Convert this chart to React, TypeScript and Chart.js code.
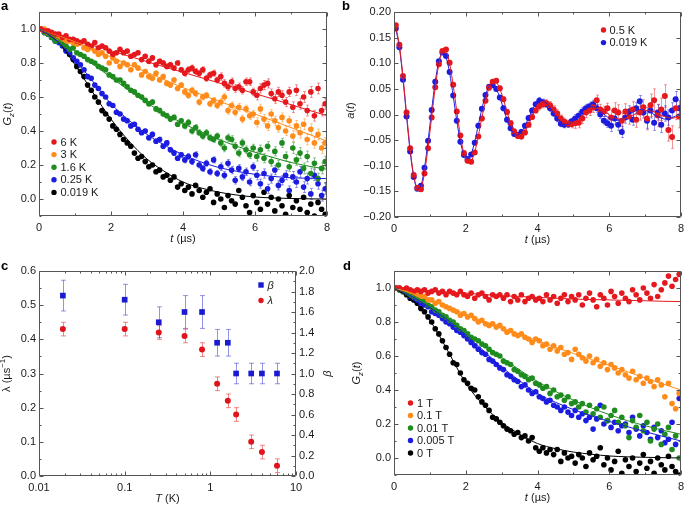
import React, { useEffect, useRef } from 'react';
import { Chart, registerables } from 'chart.js';
Chart.register(...registerables);

const FONT = '"Liberation Sans", Arial, Helvetica, sans-serif';
const TXT = '#1a1a1a';
const FRAME = '#555555';

const RED = '#e5181e';
const ORANGE = '#ff8c1a';
const GREEN = '#1f8c1f';
const BLUE = '#1c1ce0';
const BLACK = '#000000';

// shared time grid (µs)
const T_GRID = [
  0.05, 0.15, 0.25, 0.35, 0.45, 0.55, 0.65, 0.75, 0.85, 0.95,
  1.05, 1.15, 1.25, 1.35, 1.45, 1.55, 1.65, 1.75, 1.85, 1.95,
  2.05, 2.15, 2.25, 2.35, 2.45, 2.55, 2.65, 2.75, 2.85, 2.95,
  3.05, 3.15, 3.25, 3.35, 3.45, 3.55, 3.65, 3.75, 3.85, 3.95,
  4.05, 4.15, 4.25, 4.35, 4.45, 4.55, 4.65, 4.75, 4.85, 4.95,
  5.05, 5.15, 5.25, 5.35, 5.45, 5.55, 5.65, 5.75, 5.85, 5.95,
  6.05, 6.15, 6.25, 6.35, 6.45, 6.55, 6.65, 6.75, 6.85, 6.95,
  7.05, 7.15, 7.25, 7.35, 7.45, 7.55, 7.65, 7.75, 7.85, 7.95,
];
const FIT_T = [0, 0.5, 1, 1.5, 2, 2.5, 3, 3.5, 4, 4.5, 5, 5.5, 6, 6.5, 7, 7.5, 8];

// ---------- panel a ----------
const A_LABELS = ['6 K', '3 K', '1.6 K', '0.25 K', '0.019 K'];
const A_6K = [
  1.00, 0.99, 0.99, 0.98, 0.97, 0.97, 0.95, 0.96, 0.94, 0.94,
  0.93, 0.92, 0.93, 0.91, 0.90, 0.92, 0.89, 0.90, 0.89, 0.87,
  0.85, 0.86, 0.88, 0.86, 0.87, 0.84, 0.85, 0.86, 0.82, 0.84,
  0.81, 0.83, 0.79, 0.81, 0.80, 0.78, 0.79, 0.77, 0.80, 0.76,
  0.74, 0.76, 0.77, 0.75, 0.74, 0.76, 0.71, 0.73, 0.74, 0.70,
  0.72, 0.68, 0.66, 0.69, 0.65, 0.66, 0.64, 0.69, 0.69, 0.63,
  0.61, 0.65, 0.67, 0.68, 0.62, 0.59, 0.63, 0.61, 0.57, 0.63,
  0.54, 0.64, 0.56, 0.60, 0.52, 0.63, 0.49, 0.65, 0.52, 0.56,
];
const A_3K = [
  1.00, 1.00, 0.98, 0.97, 0.96, 0.95, 0.94, 0.93, 0.93, 0.92,
  0.91, 0.92, 0.89, 0.88, 0.89, 0.87, 0.85, 0.86, 0.84, 0.80,
  0.83, 0.81, 0.78, 0.80, 0.79, 0.76, 0.79, 0.77, 0.73, 0.75,
  0.72, 0.71, 0.74, 0.70, 0.72, 0.68, 0.67, 0.70, 0.65, 0.67,
  0.63, 0.61, 0.64, 0.62, 0.57, 0.60, 0.61, 0.56, 0.58, 0.55,
  0.57, 0.60, 0.52, 0.55, 0.51, 0.54, 0.47, 0.53, 0.49, 0.50,
  0.45, 0.53, 0.47, 0.43, 0.50, 0.46, 0.42, 0.48, 0.40, 0.46,
  0.37, 0.43, 0.39, 0.44, 0.35, 0.41, 0.33, 0.38, 0.30, 0.33,
];
const A_1_6K = [
  1.00, 0.98, 0.97, 0.95, 0.93, 0.93, 0.91, 0.90, 0.88, 0.89,
  0.86, 0.85, 0.84, 0.82, 0.81, 0.80, 0.78, 0.77, 0.76, 0.73,
  0.72, 0.70, 0.70, 0.68, 0.66, 0.64, 0.63, 0.61, 0.60, 0.58,
  0.56, 0.57, 0.53, 0.52, 0.50, 0.49, 0.47, 0.48, 0.44, 0.46,
  0.43, 0.45, 0.40, 0.42, 0.39, 0.37, 0.39, 0.36, 0.35, 0.37,
  0.33, 0.30, 0.36, 0.35, 0.31, 0.27, 0.33, 0.29, 0.26, 0.30,
  0.25, 0.29, 0.24, 0.31, 0.22, 0.28, 0.20, 0.33, 0.25, 0.19,
  0.30, 0.23, 0.27, 0.18, 0.25, 0.15, 0.21, 0.12, 0.18, 0.22,
];
const A_0_25K = [
  1.00, 0.98, 0.97, 0.95, 0.93, 0.92, 0.90, 0.87, 0.86, 0.83,
  0.81, 0.79, 0.76, 0.72, 0.71, 0.67, 0.65, 0.62, 0.60, 0.56,
  0.55, 0.51, 0.50, 0.47, 0.46, 0.43, 0.44, 0.41, 0.39, 0.40,
  0.36, 0.38, 0.34, 0.35, 0.31, 0.33, 0.29, 0.27, 0.24, 0.26,
  0.23, 0.25, 0.22, 0.26, 0.20, 0.18, 0.21, 0.16, 0.23, 0.15,
  0.19, 0.14, 0.21, 0.17, 0.11, 0.18, 0.13, 0.16, 0.10, 0.19,
  0.14, 0.09, 0.15, 0.06, 0.12, 0.17, 0.08, 0.11, 0.14, 0.05,
  0.13, 0.10, 0.16, 0.07, 0.12, 0.03, 0.14, 0.09, 0.02, 0.06,
];
const A_0_019K = [
  1.00, 0.99, 0.97, 0.96, 0.94, 0.93, 0.91, 0.88, 0.85, 0.82,
  0.78, 0.75, 0.72, 0.67, 0.64, 0.60, 0.57, 0.52, 0.50, 0.47,
  0.43, 0.41, 0.38, 0.35, 0.33, 0.31, 0.27, 0.24, 0.25, 0.22,
  0.19, 0.20, 0.16, 0.17, 0.13, 0.14, 0.11, 0.13, 0.07, 0.09,
  0.05, 0.07, 0.03, 0.08, 0.05, 0.01, 0.04, 0.06, -0.02, 0.03,
  0.00, -0.05, 0.02, -0.01, -0.03, 0.05, 0.01, -0.04, -0.08, 0.02,
  -0.02, -0.06, 0.04, -0.03, 0.01, -0.07, 0.00, -0.04, -0.09, 0.02,
  -0.05, -0.01, -0.06, 0.01, -0.08, -0.03, -0.10, -0.02, -0.06, -0.09,
];
const A_FIT_6K = [1, 0.968, 0.935, 0.903, 0.872, 0.84, 0.808, 0.776, 0.745, 0.714, 0.683, 0.651, 0.62, 0.588, 0.555, 0.522, 0.49];
const A_FIT_3K = [1, 0.965, 0.925, 0.882, 0.835, 0.79, 0.745, 0.7, 0.655, 0.615, 0.575, 0.537, 0.5, 0.46, 0.42, 0.38, 0.34];
const A_FIT_1_6K = [1, 0.945, 0.87, 0.793, 0.715, 0.638, 0.565, 0.502, 0.445, 0.395, 0.35, 0.31, 0.275, 0.244, 0.215, 0.193, 0.175];
const A_FIT_0_25K = [1, 0.93, 0.82, 0.69, 0.56, 0.463, 0.38, 0.315, 0.26, 0.218, 0.185, 0.163, 0.145, 0.133, 0.125, 0.122, 0.12];
const A_FIT_0_019K = [1, 0.93, 0.79, 0.625, 0.47, 0.34, 0.235, 0.16, 0.1, 0.065, 0.04, 0.023, 0.012, 0.006, 0.003, 0.001, 0];
// error bar half-size per 1 µs interval
const A_ERR = [0.004, 0.007, 0.01, 0.014, 0.018, 0.022, 0.027, 0.032];
const A_X_TICKS = [0, 2, 4, 6, 8];
const A_X_MINOR = [1, 3, 5, 7];
const G_Y_TICKS = [0, 0.2, 0.4, 0.6, 0.8, 1.0];
const G_Y_MINOR = [-0.1, 0.1, 0.3, 0.5, 0.7, 0.9, 1.1];

// ---------- panel b ----------
const B_LABELS = ['0.5 K', '0.019 K'];
const B_0_5K = [
  0.174, 0.136, 0.075, 0.004, -0.066, -0.118, -0.143, -0.146, -0.115, -0.066,
  -0.006, 0.053, 0.098, 0.124, 0.127, 0.101, 0.058, 0.006, -0.041, -0.075,
  -0.090, -0.092, -0.074, -0.043, -0.008, 0.027, 0.052, 0.064, 0.066, 0.051,
  0.030, 0.005, -0.017, -0.033, -0.042, -0.043, -0.035, -0.020, -0.005, 0.008,
  0.016, 0.020, 0.022, 0.018, 0.010, 0.002, -0.008, -0.014, -0.018, -0.019,
  -0.017, -0.016, -0.008, 0.004, 0.008, 0.014, 0.028, 0.010, 0.006, 0.012,
  -0.006, 0.008, 0.004, -0.012, 0.006, -0.004, 0.010, -0.010, 0.004, 0.014,
  -0.008, 0.018, 0.028, -0.002, 0.010, 0.036, -0.030, -0.044, 0.012, -0.004,
];
const B_0_019K = [
  0.168, 0.131, 0.068, -0.004, -0.072, -0.122, -0.145, -0.139, -0.104, -0.051,
  0.009, 0.064, 0.104, 0.121, 0.114, 0.083, 0.037, -0.012, -0.053, -0.079,
  -0.087, -0.078, -0.055, -0.022, 0.011, 0.038, 0.054, 0.057, 0.050, 0.033,
  0.012, -0.010, -0.027, -0.038, -0.040, -0.034, -0.022, -0.007, 0.008, 0.020,
  0.027, 0.024, 0.020, 0.012, 0.002, -0.008, -0.018, -0.020, -0.019, -0.013,
  -0.008, -0.002, 0.006, 0.012, 0.016, 0.020, 0.012, 0.000, -0.012, -0.017,
  -0.022, -0.008, -0.020, -0.034, -0.006, 0.006, -0.010, 0.012, 0.026, 0.004,
  -0.012, 0.008, -0.016, 0.004, -0.020, 0.002, -0.006, 0.008, 0.030, 0.012,
];
const B_FIT_0_5K = [
  0.172, 0.135, 0.074, 0.002, -0.067, -0.119, -0.145, -0.144, -0.114, -0.064,
  -0.005, 0.053, 0.098, 0.123, 0.124, 0.099, 0.057, 0.006, -0.041, -0.076,
  -0.092, -0.091, -0.073, -0.042, -0.006, 0.027, 0.052, 0.064, 0.063, 0.050,
  0.030, 0.005, -0.017, -0.033, -0.042, -0.042, -0.033, -0.020, -0.004, 0.010,
  0.021, 0.026, 0.026, 0.021, 0.012, 0.003, -0.006, -0.012, -0.016, -0.017,
  -0.014, -0.009, -0.002, 0.004, 0.009, 0.012, 0.012, 0.010, 0.006, 0.002,
  -0.003, -0.006, -0.009, -0.009, -0.008, -0.005, -0.002, 0.002, 0.005, 0.007,
  0.008, 0.007, 0.005, 0.002, -0.002, -0.004, -0.006, -0.007, -0.006, -0.004,
];
const B_FIT_0_019K = [
  0.168, 0.131, 0.070, -0.004, -0.072, -0.122, -0.145, -0.139, -0.104, -0.051,
  0.009, 0.064, 0.104, 0.121, 0.112, 0.081, 0.036, -0.012, -0.053, -0.079,
  -0.087, -0.077, -0.053, -0.021, 0.011, 0.038, 0.055, 0.058, 0.050, 0.033,
  0.012, -0.010, -0.027, -0.038, -0.040, -0.034, -0.022, -0.007, 0.008, 0.020,
  0.026, 0.026, 0.022, 0.013, 0.003, -0.007, -0.014, -0.019, -0.019, -0.016,
  -0.010, -0.002, 0.006, 0.011, 0.015, 0.015, 0.012, 0.006, 0.001, -0.005,
  -0.009, -0.011, -0.011, -0.009, -0.005, 0.000, 0.004, 0.008, 0.010, 0.009,
  0.007, 0.004, 0.000, -0.004, -0.007, -0.009, -0.008, -0.006, -0.003, 0.001,
];
const B_ERR_0_5K = [0.003, 0.003, 0.004, 0.005, 0.007, 0.01, 0.015, 0.022];
const B_ERR_0_019K = [0.003, 0.003, 0.004, 0.005, 0.006, 0.008, 0.011, 0.015];
const B_Y_TICKS = [-0.2, -0.15, -0.1, -0.05, 0, 0.05, 0.1, 0.15, 0.2];

// ---------- panel c ----------
const C_T = [0.019, 0.1, 0.25, 0.5, 0.8, 1.2, 1.6, 2, 3, 4, 6];
const C_BETA = [1.76, 1.72, 1.5, 1.6, 1.6, 1.3, 1.3, 1.0, 1.0, 1.0, 1.0];
const C_BETA_ERR = [0.15, 0.15, 0.15, 0.16, 0.16, 0.13, 0.13, 0.1, 0.1, 0.1, 0.1];
const C_LAMBDA = [0.43, 0.43, 0.42, 0.41, 0.37, 0.27, 0.22, 0.18, 0.1, 0.07, 0.03];
const C_LAMBDA_ERR = [0.02, 0.02, 0.02, 0.02, 0.02, 0.02, 0.02, 0.02, 0.02, 0.02, 0.02];
const C_X_TICKS = [0.01, 0.1, 1, 10];
const C_X_LABELS = ['0.01', '0.1', '1', '10'];
const C_X_MINOR = [0.02, 0.03, 0.04, 0.05, 0.06, 0.07, 0.08, 0.09, 0.2, 0.3, 0.4, 0.5, 0.6, 0.7, 0.8, 0.9, 2, 3, 4, 5, 6, 7, 8, 9];
const C_Y_TICKS = [0, 0.1, 0.2, 0.3, 0.4, 0.5, 0.6];
const C_Y_MINOR = [0.05, 0.15, 0.25, 0.35, 0.45, 0.55];
const C_Y2_TICKS = [0, 0.2, 0.4, 0.6, 0.8, 1.0, 1.2, 1.4, 1.6, 1.8, 2.0];
const C_Y2_MINOR = [0.1, 0.3, 0.5, 0.7, 0.9, 1.1, 1.3, 1.5, 1.7, 1.9];

// ---------- panel d ----------
const D_LABELS = ['1 T', '0.1 T', '0.01 T', '0.005 T', '0 T'];
const D_1T = [
  1.00, 1.00, 0.99, 1.00, 0.99, 0.98, 0.99, 0.98, 0.99, 0.97,
  0.98, 0.99, 0.97, 0.98, 0.96, 0.98, 0.97, 0.96, 0.98, 0.96,
  0.95, 0.97, 0.94, 0.96, 0.97, 0.95, 0.93, 0.96, 0.95, 0.96,
  0.94, 0.96, 0.92, 0.95, 0.93, 0.96, 0.92, 0.94, 0.95, 0.93,
  0.94, 0.92, 0.96, 0.93, 0.95, 0.91, 0.94, 0.96, 0.92, 0.95,
  0.93, 0.96, 0.90, 0.94, 0.97, 0.93, 0.89, 0.96, 0.94, 0.90,
  0.98, 0.95, 0.91, 0.97, 0.94, 0.92, 0.99, 0.96, 0.93, 1.00,
  0.97, 0.94, 1.02, 0.95, 0.99, 1.03, 1.07, 1.01, 1.05, 1.08,
];
const D_0_1T = [
  1.00, 1.00, 0.99, 0.99, 0.98, 0.97, 0.96, 0.95, 0.95, 0.93,
  0.93, 0.91, 0.92, 0.90, 0.89, 0.88, 0.87, 0.86, 0.84, 0.85,
  0.83, 0.84, 0.82, 0.80, 0.81, 0.79, 0.78, 0.79, 0.77, 0.78,
  0.76, 0.74, 0.75, 0.73, 0.72, 0.73, 0.71, 0.70, 0.68, 0.70,
  0.69, 0.66, 0.67, 0.64, 0.66, 0.63, 0.65, 0.61, 0.62, 0.58,
  0.64, 0.61, 0.59, 0.57, 0.60, 0.56, 0.58, 0.54, 0.56, 0.52,
  0.55, 0.53, 0.50, 0.52, 0.49, 0.47, 0.51, 0.46, 0.48, 0.44,
  0.47, 0.45, 0.42, 0.46, 0.43, 0.36, 0.44, 0.32, 0.29, 0.38,
];
const D_0_01T = [
  1.00, 0.99, 0.98, 0.97, 0.96, 0.95, 0.94, 0.93, 0.92, 0.90,
  0.89, 0.87, 0.86, 0.84, 0.83, 0.81, 0.80, 0.78, 0.76, 0.75,
  0.73, 0.71, 0.70, 0.69, 0.67, 0.66, 0.64, 0.62, 0.61, 0.60,
  0.57, 0.56, 0.55, 0.52, 0.51, 0.49, 0.48, 0.46, 0.47, 0.44,
  0.43, 0.41, 0.42, 0.38, 0.40, 0.36, 0.37, 0.34, 0.36, 0.32,
  0.33, 0.30, 0.32, 0.27, 0.31, 0.26, 0.29, 0.24, 0.30, 0.22,
  0.25, 0.28, 0.21, 0.24, 0.19, 0.12, 0.22, 0.18, 0.25, 0.16,
  0.21, 0.10, 0.17, 0.20, 0.08, 0.14, 0.18, 0.05, 0.13, 0.00,
];
const D_0_005T = [
  1.00, 1.00, 0.98, 0.97, 0.95, 0.94, 0.93, 0.91, 0.90, 0.89,
  0.86, 0.85, 0.84, 0.82, 0.80, 0.79, 0.77, 0.75, 0.74, 0.72,
  0.70, 0.68, 0.66, 0.64, 0.62, 0.61, 0.58, 0.57, 0.55, 0.53,
  0.52, 0.49, 0.48, 0.46, 0.45, 0.42, 0.43, 0.40, 0.38, 0.39,
  0.36, 0.35, 0.33, 0.34, 0.31, 0.30, 0.28, 0.30, 0.27, 0.25,
  0.28, 0.24, 0.26, 0.22, 0.24, 0.17, 0.23, 0.31, 0.20, 0.22,
  0.18, 0.21, 0.16, 0.19, 0.20, 0.15, 0.24, 0.17, 0.13, 0.19,
  0.15, 0.11, 0.18, 0.12, 0.16, 0.09, 0.11, 0.21, 0.08, 0.35,
];
const D_0T = [
  1.00, 0.99, 0.98, 0.96, 0.94, 0.93, 0.91, 0.88, 0.86, 0.83,
  0.80, 0.76, 0.73, 0.69, 0.65, 0.61, 0.56, 0.55, 0.50, 0.46,
  0.44, 0.41, 0.40, 0.36, 0.33, 0.31, 0.28, 0.24, 0.23, 0.21,
  0.19, 0.17, 0.16, 0.14, 0.15, 0.12, 0.13, 0.10, 0.12, 0.06,
  0.04, 0.06, 0.03, 0.05, 0.02, 0.05, -0.02, 0.03, 0.00, 0.01,
  -0.03, 0.02, 0.00, -0.05, 0.03, -0.01, 0.01, 0.06, -0.04, 0.00,
  -0.07, -0.02, 0.04, -0.09, -0.01, -0.05, 0.00, -0.08, -0.03, 0.02,
  -0.06, -0.02, -0.09, 0.00, -0.04, -0.07, 0.01, -0.05, -0.08, -0.10,
];
const D_FIT_1T = [1, 0.992, 0.985, 0.977, 0.97, 0.962, 0.955, 0.95, 0.945, 0.94, 0.935, 0.932, 0.93, 0.927, 0.925, 0.922, 0.92];
const D_FIT_0_1T = [1, 0.97, 0.93, 0.89, 0.845, 0.805, 0.765, 0.727, 0.69, 0.652, 0.615, 0.58, 0.545, 0.508, 0.47, 0.435, 0.4];
const D_FIT_0_01T = [1, 0.96, 0.9, 0.825, 0.74, 0.665, 0.59, 0.518, 0.45, 0.392, 0.34, 0.295, 0.255, 0.22, 0.19, 0.163, 0.14];
const D_FIT_0_005T = [1, 0.95, 0.885, 0.81, 0.725, 0.63, 0.535, 0.455, 0.38, 0.328, 0.285, 0.248, 0.215, 0.185, 0.155, 0.127, 0.1];
const D_FIT_0T = [1, 0.93, 0.81, 0.63, 0.44, 0.31, 0.21, 0.14, 0.085, 0.055, 0.035, 0.022, 0.012, 0.007, 0.004, 0.002, 0];

// ---------- helpers ----------
type Seg = { t: string; i?: boolean; sub?: boolean; sup?: boolean };

function rgba(hex: string, a: number) {
  const n = parseInt(hex.slice(1), 16);
  return `rgba(${(n >> 16) & 255},${(n >> 8) & 255},${n & 255},${a})`;
}

function drawRich(ctx: CanvasRenderingContext2D, segs: Seg[], x0: number, y0: number, size: number, rot = 0, align: 'center' | 'left' = 'center') {
  ctx.save();
  ctx.translate(x0, y0);
  if (rot) ctx.rotate(rot);
  const f = (s: Seg) => `${s.i ? 'italic ' : ''}${s.sub || s.sup ? Math.round(size * 0.72) : size}px ${FONT}`;
  let w = 0;
  for (const s of segs) { ctx.font = f(s); w += ctx.measureText(s.t).width; }
  let x = align === 'center' ? -w / 2 : 0;
  ctx.textBaseline = 'middle';
  ctx.textAlign = 'left';
  ctx.fillStyle = TXT;
  for (const s of segs) {
    ctx.font = f(s);
    const dy = s.sub ? size * 0.3 : s.sup ? -size * 0.38 : 0;
    ctx.fillText(s.t, x, dy);
    x += ctx.measureText(s.t).width;
  }
  ctx.restore();
}

function drawLegend(ctx: CanvasRenderingContext2D, items: { label: Seg[]; color: string; shape?: string }[], x: number, y0: number, dy: number, tx: number) {
  items.forEach((it, k) => {
    const y = y0 + k * dy;
    ctx.fillStyle = it.color;
    ctx.beginPath();
    if (it.shape === 'rect') ctx.rect(x - 2.7, y - 2.7, 5.4, 5.4);
    else ctx.arc(x, y, 2.7, 0, Math.PI * 2);
    ctx.fill();
    drawRich(ctx, it.label, tx, y + 0.5, 11, 0, 'left');
  });
}

function panelLetter(ctx: CanvasRenderingContext2D, s: string, x: number, y: number) {
  ctx.font = `bold 13px ${FONT}`;
  ctx.fillStyle = '#000';
  ctx.textBaseline = 'alphabetic';
  ctx.textAlign = 'left';
  ctx.fillText(s, x, y);
}

const errorBarPlugin = {
  id: 'errorBars',
  beforeDatasetsDraw(chart: any) {
    const { ctx, chartArea: a } = chart;
    ctx.save();
    ctx.beginPath();
    ctx.rect(a.left, a.top, a.right - a.left, a.bottom - a.top);
    ctx.clip();
    ctx.lineWidth = 1;
    chart.data.datasets.forEach((ds: any) => {
      if (!ds.errs) return;
      const xs = chart.scales.x;
      const ys = chart.scales[ds.yAxisID || 'y'];
      const cap = ds.capW ?? 1.5;
      ctx.strokeStyle = ds.errColor;
      ctx.beginPath();
      ds.data.forEach((p: any, i: number) => {
        const e = ds.errs[i];
        if (!e) return;
        const x = Math.round(xs.getPixelForValue(p.x)) + 0.5;
        const y1 = ys.getPixelForValue(p.y - e);
        const y2 = ys.getPixelForValue(p.y + e);
        ctx.moveTo(x, y1); ctx.lineTo(x, y2);
        ctx.moveTo(x - cap, y1); ctx.lineTo(x + cap, y1);
        ctx.moveTo(x - cap, y2); ctx.lineTo(x + cap, y2);
      });
      ctx.stroke();
    });
    ctx.restore();
  },
};

function framePlugin(cfg: { x: number[][]; y: number[][]; y2?: number[][]; deco: (chart: any, ctx: CanvasRenderingContext2D) => void }) {
  return {
    id: 'frameDeco',
    afterDatasetsDraw(chart: any) {
      const { ctx, chartArea: a } = chart;
      const L = Math.round(a.left) + 0.5, R = Math.round(a.right) - 0.5;
      const T = Math.round(a.top) + 0.5, B = Math.round(a.bottom) - 0.5;
      ctx.save();
      ctx.strokeStyle = FRAME;
      ctx.lineWidth = 1;
      ctx.beginPath();
      ctx.rect(L, T, R - L, B - T);
      const xs = chart.scales.x;
      const xt = (vals: number[], len: number) => vals.forEach((v) => {
        const p = Math.round(xs.getPixelForValue(v)) + 0.5;
        ctx.moveTo(p, B); ctx.lineTo(p, B - len);
        ctx.moveTo(p, T); ctx.lineTo(p, T + len);
      });
      const yt = (sc: any, vals: number[], len: number, left: boolean, right: boolean) => vals.forEach((v) => {
        const p = Math.round(sc.getPixelForValue(v)) + 0.5;
        if (left) { ctx.moveTo(L, p); ctx.lineTo(L + len, p); }
        if (right) { ctx.moveTo(R, p); ctx.lineTo(R - len, p); }
      });
      xt(cfg.x[0], 4); xt(cfg.x[1], 2);
      yt(chart.scales.y, cfg.y[0], 4, true, !cfg.y2);
      yt(chart.scales.y, cfg.y[1], 2, true, !cfg.y2);
      if (cfg.y2) {
        yt(chart.scales.y2, cfg.y2[0], 4, false, true);
        yt(chart.scales.y2, cfg.y2[1], 2, false, true);
      }
      ctx.stroke();
      cfg.deco(chart, ctx);
      ctx.restore();
    },
  };
}

function axis(opts: { type?: string; position: string; min: number; max: number; ticks: number[]; fmt: (v: number, i: number) => string; size: number; padding: number }) {
  const horiz = opts.position === 'bottom';
  return {
    type: opts.type || 'linear',
    position: opts.position,
    min: opts.min,
    max: opts.max,
    grid: { display: false, drawTicks: false },
    border: { display: false },
    ticks: {
      font: { family: FONT, size: 11 },
      color: TXT,
      padding: opts.padding,
      autoSkip: false,
      maxRotation: 0,
      minRotation: 0,
      callback: (v: any, i: number) => opts.fmt(Number(v), i),
    },
    afterBuildTicks: (s: any) => { s.ticks = opts.ticks.map((v) => ({ value: v })); },
    afterFit: (s: any) => {
      if (horiz) { s.height = opts.size; s.paddingLeft = 0; s.paddingRight = 0; }
      else { s.width = opts.size; s.paddingTop = 0; s.paddingBottom = 0; }
    },
  };
}

const fmt1 = (v: number) => (Math.abs(v) < 1e-9 ? '0.0' : v.toFixed(1));
const fmtInt = (v: number) => String(Math.round(v));
const fmtB = (v: number) => (Math.abs(v) < 1e-9 ? '0.00' : v < 0 ? '\u2212' + Math.abs(v).toFixed(2) : v.toFixed(2));

const pts = (xs: number[], ys: number[]) => xs.map((x, i) => ({ x, y: ys[i] }));

function scatterSet(data: number[], color: string, r: number, errs?: number[] | null) {
  return {
    type: 'scatter',
    data: pts(T_GRID, data),
    backgroundColor: color,
    borderColor: color,
    borderWidth: 0,
    pointRadius: r,
    pointBorderWidth: 0,
    showLine: false,
    clip: 0,
    errs: errs || null,
    errColor: rgba(color, 0.45),
    capW: 1.5,
  };
}
function fitSet(xs: number[], data: number[], color: string, mono = true) {
  return {
    type: 'scatter',
    data: pts(xs, data),
    borderColor: color,
    backgroundColor: color,
    borderWidth: 1,
    pointRadius: 0,
    showLine: true,
    cubicInterpolationMode: mono ? 'monotone' : 'default',
    tension: mono ? 0 : 0.3,
    clip: 0,
  };
}
const binErr = (table: number[]) => T_GRID.map((t) => table[Math.min(table.length - 1, Math.floor(t))]);

const G_TITLE: Seg[] = [{ t: 'G', i: true }, { t: 'z', i: true, sub: true }, { t: '(' }, { t: 't', i: true }, { t: ')' }];
const T_TITLE: Seg[] = [{ t: 't', i: true }, { t: ' (\u00b5s)' }];

const baseOpts = (pad: any) => ({
  responsive: false,
  animation: false,
  devicePixelRatio: 1,
  events: [],
  layout: { padding: pad },
  plugins: { legend: { display: false }, tooltip: { enabled: false } },
});

function makeA() {
  const colors = [RED, ORANGE, GREEN, BLUE, BLACK];
  const data = [A_6K, A_3K, A_1_6K, A_0_25K, A_0_019K];
  const fits = [A_FIT_6K, A_FIT_3K, A_FIT_1_6K, A_FIT_0_25K, A_FIT_0_019K];
  return {
    type: 'scatter',
    data: {
      datasets: [
        ...fits.map((f, k) => fitSet(FIT_T, f, colors[k])),
        ...data.map((d, k) => scatterSet(d, colors[k], 2.8, k < 4 ? binErr(A_ERR) : null)),
      ],
    },
    options: {
      ...baseOpts({ left: 0, top: 12, right: 13, bottom: 0 }),
      scales: {
        x: axis({ position: 'bottom', min: 0, max: 8, ticks: A_X_TICKS, fmt: fmtInt, size: 34, padding: 5 }),
        y: axis({ position: 'left', min: -0.1, max: 1.1, ticks: G_Y_TICKS, fmt: fmt1, size: 39, padding: 3 }),
      },
    },
    plugins: [errorBarPlugin, framePlugin({
      x: [A_X_TICKS, A_X_MINOR], y: [G_Y_TICKS, G_Y_MINOR],
      deco: (chart, ctx) => {
        const a = chart.chartArea;
        panelLetter(ctx, 'a', 1, 10);
        drawRich(ctx, T_TITLE, (a.left + a.right) / 2, a.bottom + 23, 11);
        drawRich(ctx, G_TITLE, 8, (a.top + a.bottom) / 2, 11, -Math.PI / 2);
        drawLegend(ctx, A_LABELS.map((l, k) => ({ label: [{ t: l }], color: colors[k] })), 54, 142, 12.6, 60.5);
      },
    })],
  };
}

function makeB() {
  return {
    type: 'scatter',
    data: {
      datasets: [
        fitSet(T_GRID, B_FIT_0_5K, RED, false),
        fitSet(T_GRID, B_FIT_0_019K, BLUE, false),
        scatterSet(B_0_5K, RED, 3, binErr(B_ERR_0_5K)),
        scatterSet(B_0_019K, BLUE, 3, binErr(B_ERR_0_019K)),
      ],
    },
    options: {
      ...baseOpts({ left: 0, top: 12, right: 4, bottom: 0 }),
      scales: {
        x: axis({ position: 'bottom', min: 0, max: 8, ticks: A_X_TICKS, fmt: fmtInt, size: 33, padding: 5 }),
        y: axis({ position: 'left', min: -0.2, max: 0.2, ticks: B_Y_TICKS, fmt: fmtB, size: 54, padding: 3 }),
      },
    },
    plugins: [errorBarPlugin, framePlugin({
      x: [A_X_TICKS, A_X_MINOR], y: [B_Y_TICKS, []],
      deco: (chart, ctx) => {
        const a = chart.chartArea;
        panelLetter(ctx, 'b', 2, 10);
        drawRich(ctx, T_TITLE, (a.left + a.right) / 2, a.bottom + 23, 11);
        drawRich(ctx, [{ t: 'a', i: true }, { t: '(' }, { t: 't', i: true }, { t: ')' }], 11, (a.top + a.bottom) / 2 - 4, 11, -Math.PI / 2);
        drawLegend(ctx, B_LABELS.map((l, k) => ({ label: [{ t: l }], color: k === 0 ? RED : BLUE })), 263.5, 30, 12.6, 269.5);
      },
    })],
  };
}

function makeC() {
  const CB = '#1a1ad0';
  const CR = '#e0141c';
  return {
    type: 'scatter',
    data: {
      datasets: [
        {
          type: 'scatter', data: pts(C_T, C_BETA), yAxisID: 'y2',
          backgroundColor: CB, borderWidth: 0, pointRadius: 4, pointStyle: 'rect', pointBorderWidth: 0,
          errs: C_BETA_ERR, errColor: 'rgba(60,60,210,0.55)', capW: 2.5, clip: 0,
        },
        {
          type: 'scatter', data: pts(C_T, C_LAMBDA), yAxisID: 'y',
          backgroundColor: CR, borderWidth: 0, pointRadius: 3, pointStyle: 'circle', pointBorderWidth: 0,
          errs: C_LAMBDA_ERR, errColor: 'rgba(225,40,40,0.55)', capW: 2.5, clip: 0,
        },
      ],
    },
    options: {
      ...baseOpts({ left: 0, top: 21, right: 0, bottom: 0 }),
      scales: {
        x: axis({ type: 'logarithmic', position: 'bottom', min: 0.01, max: 10, ticks: C_X_TICKS, fmt: (_v, i) => C_X_LABELS[i], size: 31, padding: 5 }),
        y: axis({ position: 'left', min: 0, max: 0.6, ticks: C_Y_TICKS, fmt: fmt1, size: 39, padding: 3 }),
        y2: axis({ position: 'right', min: 0, max: 2, ticks: C_Y2_TICKS, fmt: fmt1, size: 44, padding: 3 }),
      },
    },
    plugins: [errorBarPlugin, framePlugin({
      x: [C_X_TICKS, C_X_MINOR], y: [C_Y_TICKS, C_Y_MINOR], y2: [C_Y2_TICKS, C_Y2_MINOR],
      deco: (chart, ctx) => {
        const a = chart.chartArea;
        const mid = (a.top + a.bottom) / 2;
        panelLetter(ctx, 'c', 1, 20);
        drawRich(ctx, [{ t: 'T', i: true }, { t: ' (K)' }], (a.left + a.right) / 2, a.bottom + 23, 11);
        drawRich(ctx, [{ t: '\u03bb (\u00b5s' }, { t: '\u22121', sup: true }, { t: ')' }], 7, mid, 11, -Math.PI / 2);
        drawRich(ctx, [{ t: '\u03b2', i: true }], 328, mid, 11, -Math.PI / 2);
        drawLegend(ctx, [
          { label: [{ t: '\u03b2', i: true }], color: CB, shape: 'rect' },
          { label: [{ t: '\u03bb', i: true }], color: CR },
        ], 261, 35, 15.5, 267.5);
      },
    })],
  };
}

function makeD() {
  const colors = [RED, ORANGE, GREEN, BLUE, BLACK];
  const data = [D_1T, D_0_1T, D_0_01T, D_0_005T, D_0T];
  const fits = [D_FIT_1T, D_FIT_0_1T, D_FIT_0_01T, D_FIT_0_005T, D_FIT_0T];
  return {
    type: 'scatter',
    data: {
      datasets: [
        ...fits.map((f, k) => fitSet(FIT_T, f, colors[k])),
        ...data.map((d, k) => scatterSet(d, colors[k], 2.8, null)),
      ],
    },
    options: {
      ...baseOpts({ left: 0, top: 21, right: 4, bottom: 0 }),
      scales: {
        x: axis({ position: 'bottom', min: 0, max: 8, ticks: A_X_TICKS, fmt: fmtInt, size: 32, padding: 5 }),
        y: axis({ position: 'left', min: -0.1, max: 1.1, ticks: G_Y_TICKS, fmt: fmt1, size: 54, padding: 3 }),
      },
    },
    plugins: [errorBarPlugin, framePlugin({
      x: [A_X_TICKS, A_X_MINOR], y: [G_Y_TICKS, G_Y_MINOR],
      deco: (chart, ctx) => {
        const a = chart.chartArea;
        panelLetter(ctx, 'd', 3, 20);
        drawRich(ctx, T_TITLE, (a.left + a.right) / 2, a.bottom + 23, 11);
        drawRich(ctx, G_TITLE, 17, (a.top + a.bottom) / 2, 11, -Math.PI / 2);
        drawLegend(ctx, D_LABELS.map((l, k) => ({ label: [{ t: l }], color: colors[k] })), 70.5, 153, 12.5, 77);
      },
    })],
  };
}

function ChartCanvas(props: { make: () => any; w: number; h: number; x: number; y: number }) {
  const ref = useRef<HTMLCanvasElement>(null);
  useEffect(() => {
    const chart = new Chart(ref.current as HTMLCanvasElement, props.make());
    return () => chart.destroy();
  }, []);
  return (
    <canvas
      ref={ref}
      width={props.w}
      height={props.h}
      style={{ position: 'absolute', left: props.x, top: props.y, width: props.w, height: props.h }}
    />
  );
}

export default function App() {
  return (
    <div style={{ position: 'absolute', left: 0, top: 0, width: 685, height: 507, background: '#fff', overflow: 'hidden' }}>
      <ChartCanvas make={makeA} w={340} h={250} x={0} y={0} />
      <ChartCanvas make={makeB} w={345} h={250} x={340} y={0} />
      <ChartCanvas make={makeC} w={340} h={257} x={0} y={250} />
      <ChartCanvas make={makeD} w={345} h={257} x={340} y={250} />
    </div>
  );
}
